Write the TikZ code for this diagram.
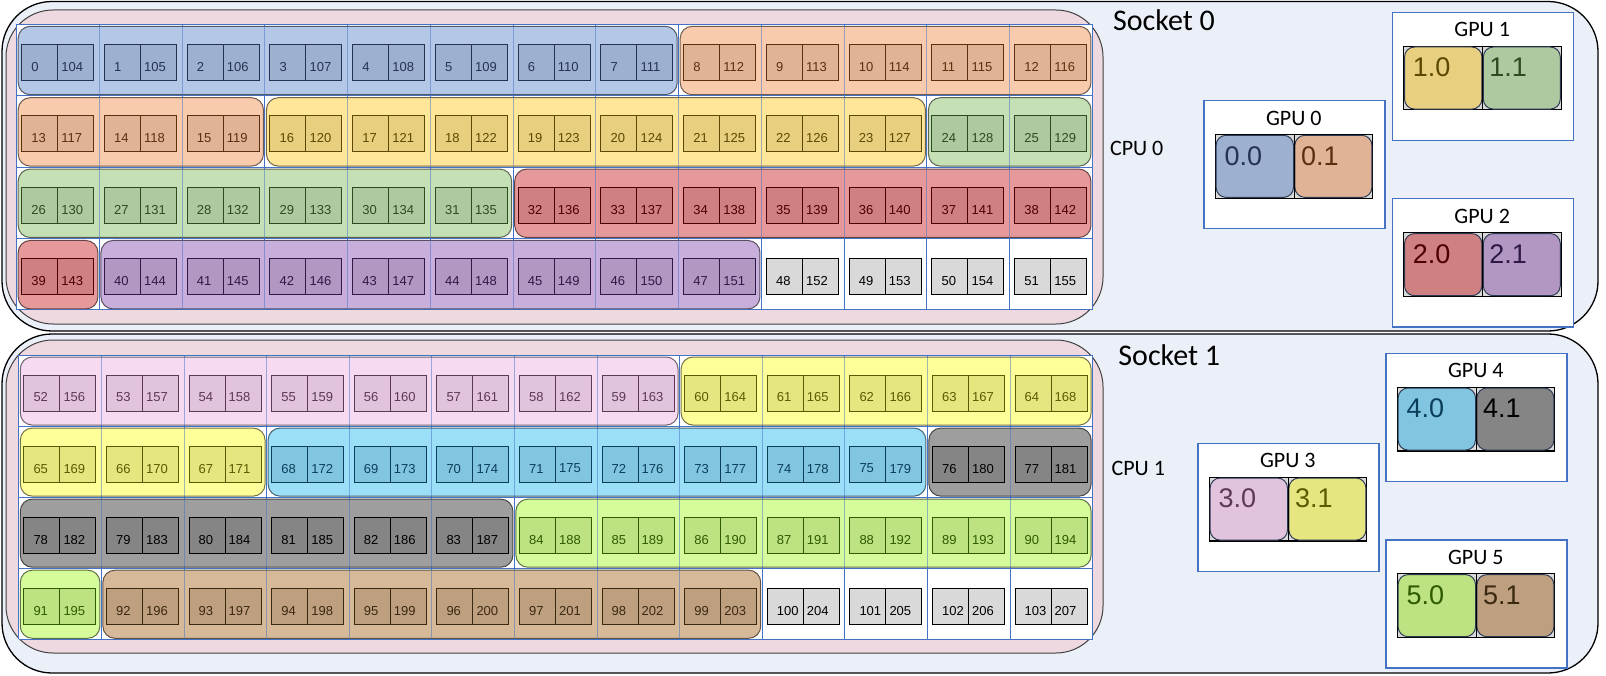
\documentclass[tikz,border=0pt]{standalone}
\usepackage{fontspec}
\setmainfont{Liberation Sans}
\newfontfamily\calfont{Carlito}
\definecolor{sockbg}{HTML}{EBF0F8}
\definecolor{cpubg}{HTML}{EED9E0}
\definecolor{gridblue}{HTML}{4472C4}
\definecolor{tileedge}{HTML}{2E3B55}
\definecolor{gBlueF}{HTML}{B4C7E7}\definecolor{gBlueI}{HTML}{9DB0CF}\definecolor{gBlueD}{HTML}{243352}
\definecolor{gOrangeF}{HTML}{F8CBAD}\definecolor{gOrangeI}{HTML}{E1B396}\definecolor{gOrangeD}{HTML}{5A300E}
\definecolor{gYellowF}{HTML}{FFE699}\definecolor{gYellowI}{HTML}{E8CF80}\definecolor{gYellowD}{HTML}{5C4800}
\definecolor{gGreenF}{HTML}{C5E0B4}\definecolor{gGreenI}{HTML}{AEC8A0}\definecolor{gGreenD}{HTML}{2F4A20}
\definecolor{gRedF}{HTML}{E6999A}\definecolor{gRedI}{HTML}{CF8181}\definecolor{gRedD}{HTML}{4A0000}
\definecolor{gPurpleF}{HTML}{C7AEDB}\definecolor{gPurpleI}{HTML}{B197C2}\definecolor{gPurpleD}{HTML}{2E1A45}
\definecolor{gPinkF}{HTML}{F6DAF2}\definecolor{gPinkI}{HTML}{E1C3DD}\definecolor{gPinkD}{HTML}{5A3A55}
\definecolor{gYelTwoF}{HTML}{FFFF99}\definecolor{gYelTwoI}{HTML}{E6E681}\definecolor{gYelTwoD}{HTML}{5A5A00}
\definecolor{gCyanF}{HTML}{9BDEF8}\definecolor{gCyanI}{HTML}{82C5E0}\definecolor{gCyanD}{HTML}{0A3F5A}
\definecolor{gGrayF}{HTML}{9E9E9E}\definecolor{gGrayI}{HTML}{858585}\definecolor{gGrayD}{HTML}{000000}
\definecolor{gLimeF}{HTML}{D5FB9B}\definecolor{gLimeI}{HTML}{BDE281}\definecolor{gLimeD}{HTML}{2E5A00}
\definecolor{gTanF}{HTML}{D6B999}\definecolor{gTanI}{HTML}{BEA080}\definecolor{gTanD}{HTML}{3A2810}
\definecolor{gEmptyF}{HTML}{FFFFFF}\definecolor{gEmptyI}{HTML}{D9D9D9}\definecolor{gEmptyD}{HTML}{000000}
\tikzset{
  sockbox/.style={draw=black, fill=sockbg, line width=1.3pt, rounded corners=50pt},
  cpubox/.style={draw=black!75, fill=cpubg, line width=1pt, rounded corners=47pt},
  grpbox/.style={line width=1pt, rounded corners=12pt},
  cellbox/.style={line width=1pt},
  celltxt/.style={anchor=west, inner sep=0pt, font=\fontsize{13}{15}\selectfont},
  gridbase/.style={draw=gridblue, line width=1pt},
  gridln/.style={draw=gridblue, line width=1pt, opacity=0.5},
  gpuframe/.style={draw=gridblue, fill=white, line width=1.2pt, anchor=north west, inner sep=0pt, minimum width=181pt, minimum height=128pt},
  gpulabel/.style={inner sep=0pt, font=\calfont\fontsize{22}{26}\selectfont},
  socklabel/.style={inner sep=0pt, font=\calfont\fontsize{30}{36}\selectfont},
  tilebox/.style={draw=black, fill=gEmptyI, line width=1.2pt},
  tile/.style={draw=tileedge, line width=1pt, rounded corners=10pt},
  tiletxt/.style={anchor=west, inner sep=0pt, font=\fontsize{27}{32}\selectfont},
}
% cells of a group: #1 x0 #2 y0 #3 w #4 h #5 row #6 c1 #7 c2 #8 colour prefix
\newcommand{\cpucells}[8]{%
  \foreach \c in {#6,...,#7} {
    \pgfmathtruncatemacro\lnum{\cbase+#5*13+\c}
    \pgfmathtruncatemacro\rnum{\lnum+104}
    \pgfmathsetmacro\cx{#1+\c*#3}
    \pgfmathsetmacro\cy{#2+#5*#4}
    \draw[cellbox, fill=#8I, draw=#8D] (\cx+5,\cy+20) rectangle (\cx+77,\cy+56);
    \draw[cellbox, draw=#8D] (\cx+41,\cy+20) -- (\cx+41,\cy+56);
    \node[celltxt, text=#8D] (c\lnum) at (\cx+14.5,\cy+42.5) {\lnum};
    \node[celltxt, text=#8D] (c\rnum) at (\cx+44.5,\cy+42.5) {\rnum};
  }
}
\newcommand{\cpugrp}[8]{%
  \draw[grpbox, fill=#8F, draw=#8F!45!black] ({#1+#6*#3+1.5},{#2+#5*#4+2}) rectangle ({#1+(#7+1)*#3-1.5},{#2+(#5+1)*#4-1});
  \cpucells{#1}{#2}{#3}{#4}{#5}{#6}{#7}{#8}
}
% grid: #1 x0 #2 y0 #3 w #4 h #5 style
\newcommand{\cpugrid}[5]{%
  \foreach \c in {0,...,13} \draw[#5] ({#1+\c*#3},{#2}) -- ({#1+\c*#3},{#2+4*#4});
  \foreach \r in {0,...,4} \draw[#5] ({#1},{#2+\r*#4}) -- ({#1+13*#3},{#2+\r*#4});
}
% GPU: #1 name #2 x #3 y #4 label #5 t1 #6 g1 #7 t2 #8 g2
\newcommand{\gpubox}[8]{%
  \node[gpuframe] (#1) at (#2,#3) {};
  \node[gpulabel] (#1l) at (#2+90.5,#3+18) {#4};
  \draw[tilebox] (#2+12,#3+34.5) rectangle (#2+169.4,#3+98.2);
  \draw[tile, fill=#6I] (#2+12.8,#3+35.3) rectangle (#2+90.2,#3+97.4);
  \draw[tile, fill=#8I] (#2+91.6,#3+35.3) rectangle (#2+168.6,#3+97.4);
  \draw[line width=1pt, black] (#2+90.9,#3+34.5) -- (#2+90.9,#3+98.2);
  \node[tiletxt, text=#6D] (#1a) at (#2+21, #3+56) {#5};
  \node[tiletxt, text=#8D] (#1b) at (#2+97.5, #3+56) {#7};
}
\begin{document}
\begin{tikzpicture}[x=1pt,y=-1pt]
\useasboundingbox[fill=white] (0,0) rectangle (1606,676);
% sockets and CPU boxes
\draw[sockbox] (2,1.5) rectangle (1598,331);
\draw[cpubox] (6,10) rectangle (1103,324);
\draw[sockbox] (2,334) rectangle (1598,673);
\draw[cpubox] (6,340) rectangle (1103,653);
% ---------- socket 0 ----------
\def\cbase{0}
\def\xa{16.7}\def\ya{24.3}\def\wa{82.75}\def\ha{71.4}
\fill[white] (\xa,\ya) rectangle ({\xa+13*\wa},{\ya+4*\ha});
\cpugrid{\xa}{\ya}{\wa}{\ha}{gridbase}
\cpugrp{\xa}{\ya}{\wa}{\ha}{0}{0}{7}{gBlue}
\cpugrp{\xa}{\ya}{\wa}{\ha}{0}{8}{12}{gOrange}
\cpugrp{\xa}{\ya}{\wa}{\ha}{1}{0}{2}{gOrange}
\cpugrp{\xa}{\ya}{\wa}{\ha}{1}{3}{10}{gYellow}
\cpugrp{\xa}{\ya}{\wa}{\ha}{1}{11}{12}{gGreen}
\cpugrp{\xa}{\ya}{\wa}{\ha}{2}{0}{5}{gGreen}
\cpugrp{\xa}{\ya}{\wa}{\ha}{2}{6}{12}{gRed}
\cpugrp{\xa}{\ya}{\wa}{\ha}{3}{0}{0}{gRed}
\cpugrp{\xa}{\ya}{\wa}{\ha}{3}{1}{8}{gPurple}
\cpucells{\xa}{\ya}{\wa}{\ha}{3}{9}{12}{gEmpty}
\cpugrid{\xa}{\ya}{\wa}{\ha}{gridln}
% ---------- socket 1 ----------
\def\cbase{52}
\def\xb{18.8}\def\yb{355}\def\wb{82.6}\def\hb{71.07}
\fill[white] (\xb,\yb) rectangle ({\xb+13*\wb},{\yb+4*\hb});
\cpugrid{\xb}{\yb}{\wb}{\hb}{gridbase}
\cpugrp{\xb}{\yb}{\wb}{\hb}{0}{0}{7}{gPink}
\cpugrp{\xb}{\yb}{\wb}{\hb}{0}{8}{12}{gYelTwo}
\cpugrp{\xb}{\yb}{\wb}{\hb}{1}{0}{2}{gYelTwo}
\cpugrp{\xb}{\yb}{\wb}{\hb}{1}{3}{10}{gCyan}
\cpugrp{\xb}{\yb}{\wb}{\hb}{1}{11}{12}{gGray}
\cpugrp{\xb}{\yb}{\wb}{\hb}{2}{0}{5}{gGray}
\cpugrp{\xb}{\yb}{\wb}{\hb}{2}{6}{12}{gLime}
\cpugrp{\xb}{\yb}{\wb}{\hb}{3}{0}{0}{gLime}
\cpugrp{\xb}{\yb}{\wb}{\hb}{3}{1}{8}{gTan}
\cpucells{\xb}{\yb}{\wb}{\hb}{3}{9}{12}{gEmpty}
\cpugrid{\xb}{\yb}{\wb}{\hb}{gridln}
% labels
\node[socklabel] (s0) at (1164,20.5) {Socket 0};
\node[socklabel] (s1) at (1169.3,354.7) {Socket 1};
\node[gpulabel] (cpu0) at (1136.7,148.8) {CPU 0};
\node[gpulabel] (cpu1) at (1138.3,468.7) {CPU 1};
% GPUs
\gpubox{gpu0}{1203.3}{100}{GPU 0}{0.0}{gBlue}{0.1}{gOrange}
\gpubox{gpu1}{1391.7}{11.7}{GPU 1}{1.0}{gYellow}{1.1}{gGreen}
\gpubox{gpu2}{1391.7}{198.3}{GPU 2}{2.0}{gRed}{2.1}{gPurple}
\gpubox{gpu3}{1197.3}{442.7}{GPU 3}{3.0}{gPink}{3.1}{gYelTwo}
\gpubox{gpu4}{1385.3}{352.7}{GPU 4}{4.0}{gCyan}{4.1}{gGray}
\gpubox{gpu5}{1385.3}{539.3}{GPU 5}{5.0}{gLime}{5.1}{gTan}
\end{tikzpicture}
\end{document}
